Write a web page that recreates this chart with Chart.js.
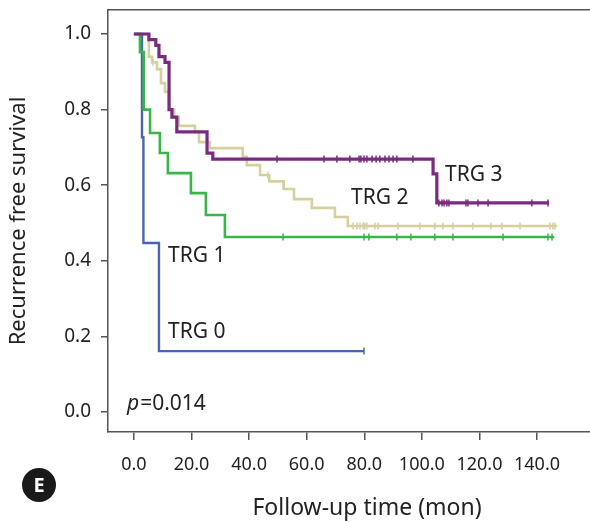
<!DOCTYPE html>
<html>
<head>
<meta charset="utf-8">
<script src="https://cdn.jsdelivr.net/npm/chart.js@4.4.1/dist/chart.umd.min.js"></script>
<style>
  html, body { margin: 0; padding: 0; background: #fff; overflow: hidden; }
  #quadro { width: 590px; height: 522px; overflow: hidden; }
</style>
</head>
<body>
<!-- o eixo x continua além da borda direita, como na figura original -->
<div id="quadro"><canvas id="km" width="626" height="522"></canvas></div>
<script>
// Curvas de Kaplan-Meier: tempo (meses) em que a sobrevida muda e o novo valor
const trg0Tempo = [0, 2.8, 3.3, 8.7, 79.9];
const trg0Sobrevida = [1, 0.727, 0.447, 0.161, 0.161];
const trg0Censura = [79.9];

const trg1Tempo = [0, 2.1, 3.4, 5.6, 9.0, 11.8, 19.8, 25.0, 31.6, 146];
const trg1Sobrevida = [1, 0.952, 0.8, 0.738, 0.685, 0.632, 0.579, 0.521, 0.463, 0.463];
const trg1Censura = [51.8, 79.9, 81.6, 91.3, 96.2, 104.5, 110.8, 128.2, 143.8, 145.2];

const trg2Tempo = [0, 5.2, 6.3, 8.0, 9.4, 10.8, 12.2, 14.0, 15.6, 21.2, 22.6, 26.4, 37.8, 39.2, 43.8, 47, 52, 55.6, 61.8, 69.8, 74.3, 146.9];
const trg2Sobrevida = [1, 0.94, 0.925, 0.907, 0.87, 0.847, 0.8, 0.78, 0.757, 0.741, 0.714, 0.698, 0.675, 0.653, 0.627, 0.61, 0.59, 0.563, 0.54, 0.516, 0.492, 0.492];
const trg2Censura = [6.6, 46.5, 76.1, 77.5, 78.5, 79.6, 80.2, 80.9, 83.7, 84.8, 91.7, 99.3, 104.5, 107.3, 110.8, 117.7, 124.0, 127.8, 134.1, 144.5, 145.5, 146.2];

const trg3Tempo = [0, 5.2, 7.6, 8.7, 10.8, 12.2, 13.2, 14.9, 25.4, 27.4, 103.9, 105.2, 144.2];
const trg3Sobrevida = [1, 0.985, 0.97, 0.94, 0.925, 0.8, 0.78, 0.741, 0.685, 0.669, 0.63, 0.553, 0.553];
const trg3Censura = [49.7, 66.0, 70.5, 75.0, 78.2, 78.8, 79.9, 80.9, 82.7, 84.1, 85.4, 87.2, 88.6, 90.0, 91.3, 96.9,
  105.9, 107.0, 107.7, 108.7, 109.4, 115.3, 116.0, 119.5, 123.0, 138.2, 143.8];

const xTicks = [0, 20, 40, 60, 80, 100, 120, 140];
const yTicks = [0, 0.2, 0.4, 0.6, 0.8, 1.0];

const fonte = '"Noto Sans", "DejaVu Sans", sans-serif';
const corTexto = '#222';
const corEixo = '#555';

// valor da curva em escada no tempo t
function sobrevidaEm(tempos, sobrevida, t) {
  let s = sobrevida[0];
  for (let i = 0; i < tempos.length; i++) {
    if (tempos[i] <= t) s = sobrevida[i];
  }
  return s;
}

function curva(label, tempos, sobrevida, cor, largura, ordem) {
  return {
    label,
    data: tempos.map((t, i) => ({ x: t, y: sobrevida[i] })),
    showLine: true,
    stepped: true,
    borderColor: cor,
    borderWidth: largura,
    pointRadius: 0,
    fill: false,
    order: ordem
  };
}

function censuras(label, tempos, sobrevida, censura, cor, ordem) {
  return {
    label,
    data: censura.map((t) => ({ x: t, y: sobrevidaEm(tempos, sobrevida, t) })),
    showLine: false,
    pointStyle: 'line',
    rotation: 90,
    pointRadius: 3.5,
    borderColor: cor,
    borderWidth: 1.5,
    order: ordem
  };
}

const roxo = '#7a2b80';
const verde = '#3bb54a';
const azul = '#4a64b0';
const bege = '#d6cf9e';

// textos soltos e o selo "E"
const anotacoes = {
  id: 'anotacoes',
  afterDraw(chart) {
    const { ctx } = chart;
    ctx.save();
    ctx.fillStyle = corTexto;
    ctx.textBaseline = 'middle';
    ctx.textAlign = 'left';
    ctx.font = '21px ' + fonte;
    ctx.fillText('TRG 3', 445, 175);
    ctx.fillText('TRG 2', 351, 198);
    ctx.fillText('TRG 1', 168, 256);
    ctx.fillText('TRG 0', 168, 332);

    ctx.font = 'italic 21px ' + fonte;
    ctx.fillText('p', 127, 404);
    const wp = ctx.measureText('p').width;
    ctx.font = '21px ' + fonte;
    ctx.fillText('=0.014', 127 + wp + 1, 404);

    ctx.beginPath();
    ctx.arc(39, 485, 17, 0, Math.PI * 2);
    ctx.fillStyle = '#1a1a1a';
    ctx.fill();
    ctx.fillStyle = '#fff';
    ctx.textAlign = 'center';
    ctx.font = 'bold 20px ' + fonte;
    ctx.fillText('E', 39, 486);
    ctx.restore();
  }
};

new Chart(document.getElementById('km').getContext('2d'), {
  type: 'scatter',
  data: {
    datasets: [
      curva('TRG 3', trg3Tempo, trg3Sobrevida, roxo, 3.2, 0),
      censuras('TRG 3 censura', trg3Tempo, trg3Sobrevida, trg3Censura, roxo, 0),
      curva('TRG 1', trg1Tempo, trg1Sobrevida, verde, 2.6, 1),
      censuras('TRG 1 censura', trg1Tempo, trg1Sobrevida, trg1Censura, verde, 1),
      curva('TRG 0', trg0Tempo, trg0Sobrevida, azul, 2.4, 2),
      censuras('TRG 0 censura', trg0Tempo, trg0Sobrevida, trg0Censura, azul, 2),
      curva('TRG 2', trg2Tempo, trg2Sobrevida, bege, 2.6, 3),
      censuras('TRG 2 censura', trg2Tempo, trg2Sobrevida, trg2Censura, bege, 3)
    ]
  },
  options: {
    responsive: false,
    animation: false,
    devicePixelRatio: 1,
    layout: { autoPadding: false, padding: { top: 10, right: 0, bottom: 0, left: 0 } },
    plugins: { legend: { display: false }, tooltip: { enabled: false } },
    scales: {
      x: {
        type: 'linear',
        min: -9,
        max: 170.9,
        afterBuildTicks: (s) => { s.ticks = xTicks.map((v) => ({ value: v })); },
        afterFit: (s) => { s.height = 90; },
        grid: { drawOnChartArea: false, drawTicks: true, tickLength: 8, color: corEixo, lineWidth: 1.5 },
        border: { color: corEixo, width: 1.5 },
        ticks: {
          color: corTexto, padding: 14, maxRotation: 0, autoSkip: false,
          font: { family: fonte, size: 18 },
          callback: (v) => Number(v).toFixed(1)
        },
        title: {
          display: true, text: 'Follow-up time (mon)', color: corTexto,
          font: { family: fonte, size: 23 }, padding: { top: 0, bottom: 0 }
        }
      },
      xTopo: {
        type: 'linear',
        position: 'top',
        min: 0, max: 1,
        afterFit: (s) => { s.height = 0; },
        grid: { display: false },
        ticks: { display: false },
        border: { color: corEixo, width: 1.5 }
      },
      y: {
        type: 'linear',
        min: -0.053,
        max: 1.0635,
        afterBuildTicks: (s) => { s.ticks = yTicks.map((v) => ({ value: v })); },
        afterFit: (s) => { s.width = 108; },
        grid: { drawOnChartArea: false, drawTicks: true, tickLength: 7, color: corEixo, lineWidth: 1.5 },
        border: { color: corEixo, width: 1.5 },
        ticks: {
          color: corTexto, padding: 10,
          // altura de linha zero: os rótulos de uma linha não empurram o topo da área
          font: { family: fonte, size: 19, lineHeight: 0 },
          callback: (v) => Number(v).toFixed(1)
        },
        title: {
          display: true, text: 'Recurrence free survival', color: corTexto,
          font: { family: fonte, size: 22 }, padding: { top: 6, bottom: 0 }
        }
      }
    }
  },
  plugins: [anotacoes]
});
</script>
</body>
</html>
